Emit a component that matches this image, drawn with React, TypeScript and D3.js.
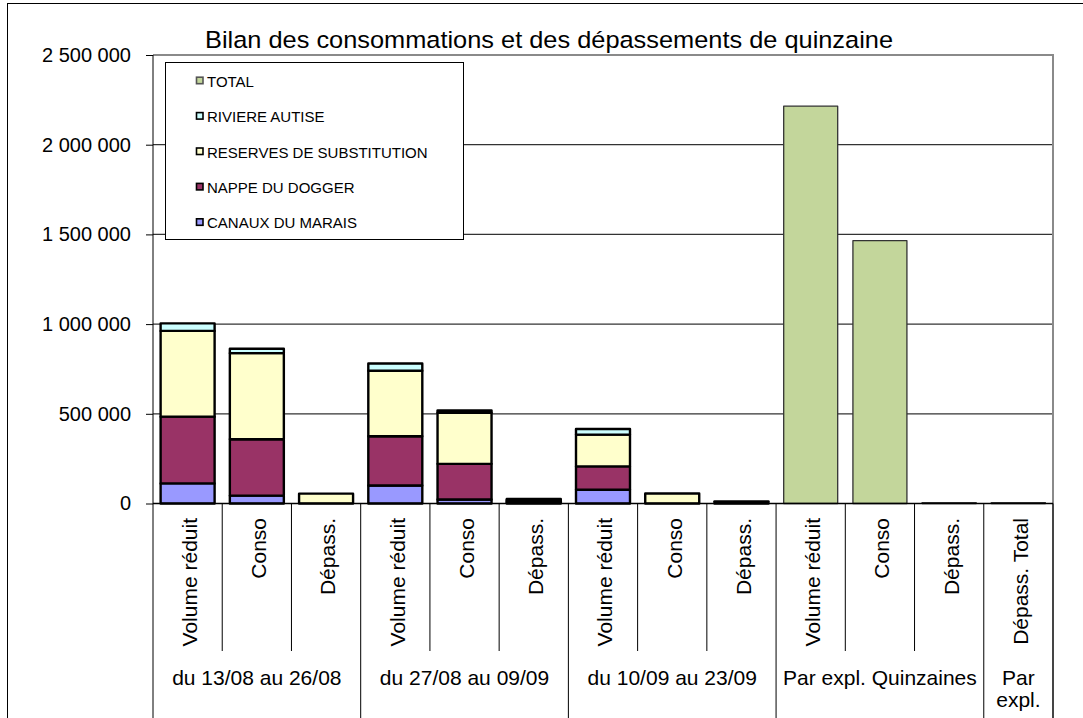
import { useEffect, useRef } from "react";
import * as d3 from "d3";

const title = "Bilan des consommations et des dépassements de quinzaine";

const categories = [
  "Volume réduit", "Conso", "Dépass.",
  "Volume réduit", "Conso", "Dépass.",
  "Volume réduit", "Conso", "Dépass.",
  "Volume réduit", "Conso", "Dépass.",
  "Dépass. Total",
];

const groups = [
  { label: ["du 13/08 au 26/08"], size: 3 },
  { label: ["du 27/08 au 09/09"], size: 3 },
  { label: ["du 10/09 au 23/09"], size: 3 },
  { label: ["Par expl. Quinzaines"], size: 3 },
  { label: ["Par", "expl."], size: 1 },
];

const canaux = [112000, 44000, 0, 100000, 22000, 5000, 77000, 0, 0, 0, 0, 0, 0];
const nappe = [372000, 314000, 0, 275000, 199000, 8000, 130000, 0, 0, 0, 0, 0, 0];
const reserves = [478000, 480000, 55000, 365000, 285000, 7000, 177000, 56000, 12000, 0, 0, 0, 0];
const riviere = [42000, 25000, 0, 40000, 12000, 5000, 31000, 0, 0, 0, 0, 0, 0];
const total = [0, 0, 0, 0, 0, 0, 0, 0, 0, 2215000, 1465000, 5000, 5000];

const seriesKeys = ["canaux", "nappe", "reserves", "riviere", "total"];
const seriesColors = ["#9999FF", "#993366", "#FFFFCC", "#CCFFFF", "#C3D69B"];
const legendLabels = ["TOTAL", "RIVIERE AUTISE", "RESERVES DE SUBSTITUTION", "NAPPE DU DOGGER", "CANAUX DU MARAIS"];
const legendKeys = ["total", "riviere", "reserves", "nappe", "canaux"];

const yTicks = [0, 500000, 1000000, 1500000, 2000000, 2500000];

const FONT = "'Liberation Sans', Arial, sans-serif";

function renderChart(el: SVGSVGElement) {
  const w = 1083,
    h = 718;
  const left = 153,
    right = 1053,
    top = 55,
    bottom = 503.5;
  const svg = d3.select(el);
  svg.selectAll("*").remove();
  svg.attr("width", w).attr("height", h).attr("viewBox", `0 0 ${w} ${h}`);

  svg.append("rect").attr("width", w).attr("height", h).attr("fill", "#fff");
  // outer chart border
  svg
    .append("rect")
    .attr("x", 7.5)
    .attr("y", 3.5)
    .attr("width", w + 20)
    .attr("height", h + 20)
    .attr("fill", "none")
    .attr("stroke", "#000");

  const rows = categories.map((c, i) => ({
    cat: c,
    i,
    canaux: canaux[i],
    nappe: nappe[i],
    reserves: reserves[i],
    riviere: riviere[i],
    total: total[i],
  }));

  const x = d3
    .scaleBand<number>()
    .domain(rows.map((d) => d.i))
    .range([left, right])
    .paddingInner(0.22)
    .paddingOuter(0.11);
  const step = x.step();
  const y = d3.scaleLinear().domain([0, 2500000]).range([bottom, top]);
  const color = d3.scaleOrdinal<string, string>().domain(seriesKeys).range(seriesColors);

  // gridlines
  svg
    .append("g")
    .selectAll("line")
    .data(yTicks.slice(1, -1))
    .join("line")
    .attr("x1", left)
    .attr("x2", right)
    .attr("y1", (d) => y(d))
    .attr("y2", (d) => y(d))
    .attr("stroke", "#333")
    .attr("stroke-width", 1.3);

  // plot area border top/right
  svg
    .append("path")
    .attr("d", `M${left},${y(2500000)}H${right}V${h}`)
    .attr("fill", "none")
    .attr("stroke", "#8a8a8a")
    .attr("stroke-width", 2);

  const stack = d3.stack<any>().keys(seriesKeys);
  const layers = stack(rows);

  layers.forEach((layer) => {
    const key = layer.key;
    const isTotal = key === "total";
    svg
      .append("g")
      .selectAll("rect")
      .data(layer.filter((d) => d[1] - d[0] > 0))
      .join("rect")
      .attr("x", (d) => x(d.data.i)!)
      .attr("width", x.bandwidth())
      .attr("y", (d) => y(d[1]))
      .attr("height", (d) => Math.max(0.5, y(d[0]) - y(d[1])))
      .attr("fill", color(key))
      .attr("stroke", isTotal ? "#333" : "#000")
      .attr("stroke-width", isTotal ? 1.3 : 2.4)
      .attr("stroke-linejoin", "round");
  });

  // y axis
  const yAxis = d3
    .axisLeft(y)
    .tickValues(yTicks)
    .tickSize(7)
    .tickPadding(15)
    .tickFormat((d) => d3.format(",")(d as number).replace(/,/g, " "));
  const ga = svg.append("g").attr("transform", `translate(${left},0)`).call(yAxis);
  ga.select(".domain").remove();
  ga.selectAll("line").attr("stroke", "#000");
  ga.selectAll("text").attr("font-family", FONT).attr("font-size", 20).attr("fill", "#000");

  // axis lines
  svg.append("line").attr("x1", left).attr("x2", left).attr("y1", top).attr("y2", h).attr("stroke", "#000");
  svg.append("line").attr("x1", left).attr("x2", right).attr("y1", bottom).attr("y2", bottom).attr("stroke", "#000").attr("stroke-width", 1.5);

  // category boundary lines
  const groupStarts: number[] = [];
  let acc = 0;
  groups.forEach((g) => {
    groupStarts.push(acc);
    acc += g.size;
  });
  const boundaries = d3.range(1, categories.length + 1);
  svg
    .append("g")
    .selectAll("line")
    .data(boundaries)
    .join("line")
    .attr("x1", (d) => left + d * step)
    .attr("x2", (d) => left + d * step)
    .attr("y1", bottom)
    .attr("y2", (d) => (groupStarts.includes(d) || d === categories.length ? h : 651))
    .attr("stroke", "#000");

  // rotated category labels
  svg
    .append("g")
    .selectAll("text")
    .data(rows)
    .join("text")
    .attr("transform", (d) => `translate(${x(d.i)! + x.bandwidth() / 2 + 2},518) rotate(-90)`)
    .attr("text-anchor", "end")
    .attr("dy", "0.35em")
    .attr("font-family", FONT)
    .attr("font-size", 21)
    .attr("fill", "#000")
    .text((d) => d.cat);

  // group labels
  groups.forEach((g, gi) => {
    const cx = left + (groupStarts[gi] + g.size / 2) * step;
    g.label.forEach((line, li) => {
      svg
        .append("text")
        .attr("x", cx)
        .attr("y", 685 + li * 22)
        .attr("text-anchor", "middle")
        .attr("font-family", FONT)
        .attr("font-size", 21)
        .attr("fill", "#000")
        .text(line);
    });
  });

  // title
  svg
    .append("text")
    .attr("x", 205)
    .attr("y", 48)
    .attr("font-family", FONT)
    .attr("font-size", 24.5)
    .attr("textLength", 688)
    .attr("lengthAdjust", "spacingAndGlyphs")
    .attr("fill", "#000")
    .text(title);

  // legend
  const lg = svg.append("g");
  lg.append("rect")
    .attr("x", 165.5)
    .attr("y", 62.5)
    .attr("width", 298)
    .attr("height", 177)
    .attr("fill", "#fff")
    .attr("stroke", "#000");
  legendKeys.forEach((k, i) => {
    const by = 86.7 + i * 35.4;
    lg.append("rect")
      .attr("x", 196.5)
      .attr("y", by - 9.5)
      .attr("width", 6.5)
      .attr("height", 6.5)
      .attr("fill", color(k))
      .attr("stroke", k === "total" ? "#555" : "#000")
      .attr("stroke-width", 1.6);
    lg.append("text")
      .attr("x", 207)
      .attr("y", by)
      .attr("font-family", FONT)
      .attr("font-size", 15)
      .attr("fill", "#000")
      .text(legendLabels[i]);
  });
}

export default function App() {
  const ref = useRef<SVGSVGElement>(null);
  useEffect(() => {
    if (ref.current) renderChart(ref.current);
  }, []);
  return <svg ref={ref} style={{ position: "absolute", left: 0, top: 0, display: "block" }} />;
}
